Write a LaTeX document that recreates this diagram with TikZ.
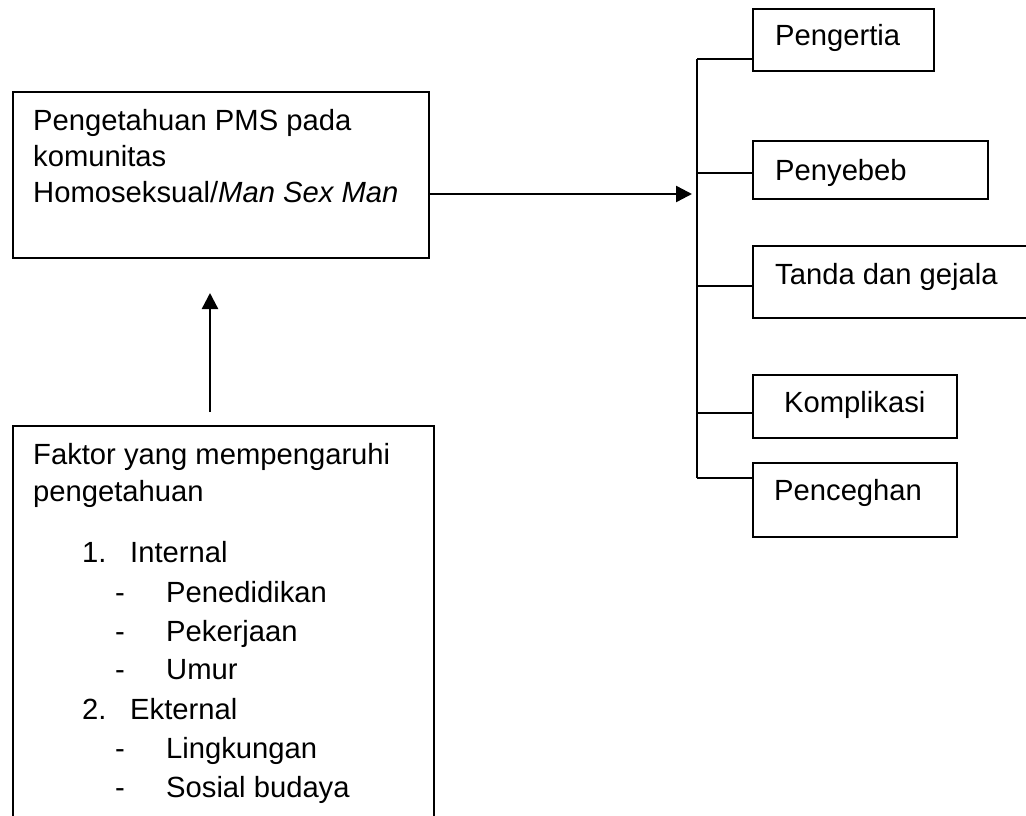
\documentclass[tikz,border=0pt]{standalone}
\usepackage{fontspec}
\setmainfont{Liberation Sans}
\usetikzlibrary{arrows.meta}
\begin{document}
\begin{tikzpicture}[x=1pt,y=-1pt,
  boxstyle/.style={draw, line width=1.6pt, inner sep=0pt, anchor=north west},
  txt/.style={inner sep=0pt, anchor=base west, font=\fontsize{29.2pt}{36pt}\selectfont},
  arr/.style={line width=2.4pt, -{Triangle[length=16pt,width=16pt]}},
  conn/.style={line width=1.6pt}]
\useasboundingbox (0,0) rectangle (1026,816);
\clip (0,0) rectangle (1026,816);
% main box
\node[boxstyle, minimum width=416pt, minimum height=166pt] (main) at (12,91) {};
\node[txt] (m1) at (33,130) {Pengetahuan PMS pada};
\node[txt] (m2) at (33,166) {komunitas};
\node[txt] (m3) at (33,202) {Homoseksual/\textit{Man Sex Man}};
% factor box
\node[boxstyle, minimum width=421pt, minimum height=420pt] (fak) at (12,425) {};
\node[txt] (f1) at (33,464) {Faktor yang mempengaruhi};
\node[txt] (f2) at (33,501) {pengetahuan};
\node[txt] (n1) at (82,562) {1.};
\node[txt] (l1) at (130,562) {Internal};
\node[txt] (d1) at (115,602) {-};
\node[txt] (i1) at (166,602) {Penedidikan};
\node[txt] (d2) at (115,641) {-};
\node[txt] (i2) at (166,641) {Pekerjaan};
\node[txt] (d3) at (115,679) {-};
\node[txt] (i3) at (166,679) {Umur};
\node[txt] (n2) at (82,719) {2.};
\node[txt] (l2) at (130,719) {Ekternal};
\node[txt] (d4) at (115,758) {-};
\node[txt] (i4) at (166,758) {Lingkungan};
\node[txt] (d5) at (115,797) {-};
\node[txt] (i5) at (166,797) {Sosial budaya};
% right boxes
\node[boxstyle, minimum width=181pt, minimum height=62pt] (b1) at (752,8) {};
\node[txt] (b1t) at (775,46) {Pengertia};
\node[boxstyle, minimum width=235pt, minimum height=58pt] (b2) at (752,140) {};
\node[txt] (b2t) at (775,180) {Penyebeb};
\node[boxstyle, minimum width=290pt, minimum height=72pt] (b3) at (752,245) {};
\node[txt] (b3t) at (775,284) {Tanda dan gejala};
\node[boxstyle, minimum width=204pt, minimum height=63pt] (b4) at (752,374) {};
\node[txt] (b4t) at (784,412) {Komplikasi};
\node[boxstyle, minimum width=204pt, minimum height=74pt] (b5) at (752,462) {};
\node[txt] (b5t) at (774,500) {Penceghan};
% trunk and branches
\coordinate (t1) at (697,59);
\coordinate (t2) at (697,173);
\coordinate (t3) at (697,286);
\coordinate (t4) at (697,413);
\coordinate (t5) at (697,478);
\draw[conn] (t1) -- (t5);
\draw[conn] (t1) -- (t1 -| b1.west);
\draw[conn] (t2) -- (t2 -| b2.west);
\draw[conn] (t3) -- (t3 -| b3.west);
\draw[conn] (t4) -- (t4 -| b4.west);
\draw[conn] (t5) -- (t5 -| b5.west);
% arrows
\coordinate (tip) at (692,194);
\draw[arr] (main.east |- tip) -- (tip);
\coordinate (vs) at (210,412);
\coordinate (ve) at (210,293);
\draw[arr] (vs) -- (ve);
\end{tikzpicture}
\end{document}
